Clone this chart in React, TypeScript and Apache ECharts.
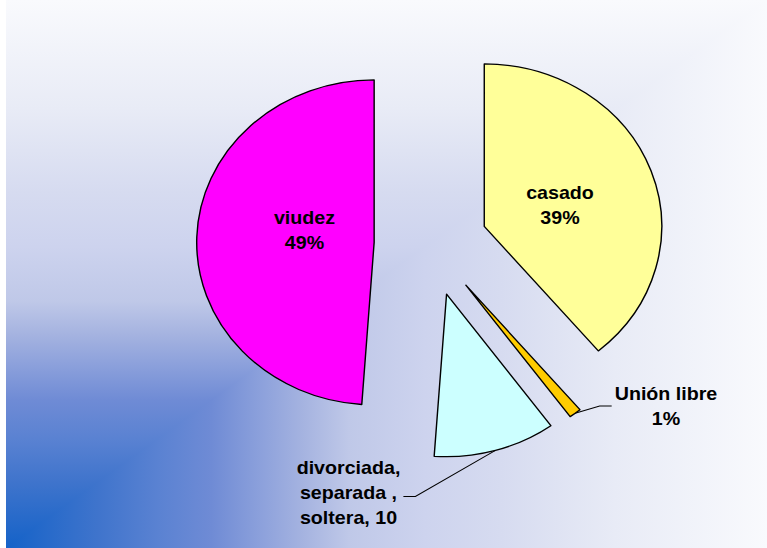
import React, { useEffect, useRef } from "react";
import * as echarts from "echarts";

// ---- data ----
const categories = ["casado", "Unión libre", "divorciada,\nseparada ,\nsoltera", "viudez"];
const values = [35, 1, 10, 44];
const sliceColors = ["#ffff99", "#ffcc00", "#ccffff", "#ff00ff"];
// label formats per slice: percent for most, value for the merged category
const labelFormats = ["{b}\n{d}%", "{b}\n{d}%", "{b}, {c}", "{b}\n{d}%"];
const insideLabel = [true, false, false, true];

// ---- layout (chart is drawn then stretched horizontally, like the reference) ----
const STRETCH = 1.092;
const FULL_W = 767;
const FULL_H = 548;
const CHART_W = FULL_W / STRETCH;
const PIE_CENTER: [number, number] = [394.6, 244.2];
const PIE_RADIUS = 162.5;
const EXPLODE = 52;
// label centres in the chart's own (unstretched) pixel space
const labelAnchors: [number, number][] = [
  [560 / STRETCH, 205],
  [666 / STRETCH, 406],
  [348.5 / STRETCH, 492.5],
  [304.5 / STRETCH, 230],
];
// leader-line side and vertical shift relative to the label centre
const leaderSide = [0, -1, 1, 0];
const leaderDy = [0, 0, 4, 0];

const bgStops = [
  "#1462c8 0%",
  "#3f74cc 12%",
  "#5a82d2 20%",
  "#6f8bd5 27%",
  "#8a9fdb 33%",
  "#a5b3e0 39%",
  "#bfc8e8 45%",
  "#cdd3ee 55%",
  "#d6dbf0 65%",
  "#e8ebf6 80%",
  "#f9fafd 100%",
].join(", ");

const total = values.reduce((a, b) => a + b, 0);

export default function App() {
  const ref = useRef<HTMLDivElement>(null);

  useEffect(() => {
    if (!ref.current) return;
    const chart = echarts.init(ref.current, null, { renderer: "svg" });

    // one pie per slice, each exploded outward along its own bisector
    let cum = 0;
    const series = categories.map((_, i) => {
      const mid = ((cum + values[i] / 2) / total) * 2 * Math.PI;
      cum += values[i];
      const center = [
        PIE_CENTER[0] + EXPLODE * Math.sin(mid),
        PIE_CENTER[1] - EXPLODE * Math.cos(mid),
      ];
      const data = categories.map((name, j) => {
        const own = j === i;
        return {
          name,
          value: values[j],
          itemStyle: own
            ? { color: sliceColors[j], borderColor: "#000", borderWidth: 1.3 }
            : { color: "rgba(0,0,0,0)", borderWidth: 0 },
          label: own
            ? {
                show: true,
                position: insideLabel[j] ? "inside" : "outside",
                formatter: labelFormats[j],
              }
            : { show: false },
          labelLine: { show: own && !insideLabel[j] },
        };
      });
      return {
        type: "pie",
        center,
        radius: PIE_RADIUS,
        startAngle: 90,
        clockwise: true,
        avoidLabelOverlap: false,
        percentPrecision: 0,
        silent: true,
        label: {
          color: "#000",
          fontFamily: "Liberation Sans, Arial, sans-serif",
          fontWeight: "bold",
          fontSize: 18,
          lineHeight: 25,
          align: "center",
        },
        labelLine: {
          length: 10,
          length2: 10,
          lineStyle: { color: "#000", width: 1 },
        },
        labelLayout: (params: any) => {
          const k = params.dataIndex;
          if (k !== i) return {};
          const a = labelAnchors[k];
          const out: any = { x: a[0], y: a[1], align: "center", verticalAlign: "middle" };
          const side = leaderSide[k];
          const pts = params.labelLinePoints;
          if (side !== 0 && pts && pts.length) {
            const edge = a[0] + (side * params.labelRect.width) / 2;
            const y = a[1] + leaderDy[k];
            out.labelLinePoints = [
              pts[0],
              [edge + (side * 15) / STRETCH, y],
              [edge + (side * 3) / STRETCH, y],
            ];
          }
          return out;
        },
        data,
      };
    });

    chart.setOption({
      animation: false,
      backgroundColor: "transparent",
      series,
    });
    return () => chart.dispose();
  }, []);

  return (
    <div
      style={{
        position: "absolute",
        left: 0,
        top: 0,
        width: FULL_W,
        height: FULL_H,
        overflow: "hidden",
        background: "#ffffff",
      }}
    >
      <div
        style={{
          position: "absolute",
          left: 6,
          top: 0,
          width: FULL_W - 6,
          height: FULL_H,
          background: `linear-gradient(to top, ${bgStops})`,
        }}
      />
      <div
        style={{
          position: "absolute",
          left: 6,
          top: 0,
          width: FULL_W - 6,
          height: FULL_H,
          background: `linear-gradient(to right, ${bgStops})`,
          clipPath: "polygon(0 100%, 100% 0, 100% 100%)",
        }}
      />
      <div
        ref={ref}
        style={{
          position: "absolute",
          left: 0,
          top: 0,
          width: CHART_W,
          height: FULL_H,
          transform: `scaleX(${STRETCH})`,
          transformOrigin: "0 0",
        }}
      />
    </div>
  );
}
